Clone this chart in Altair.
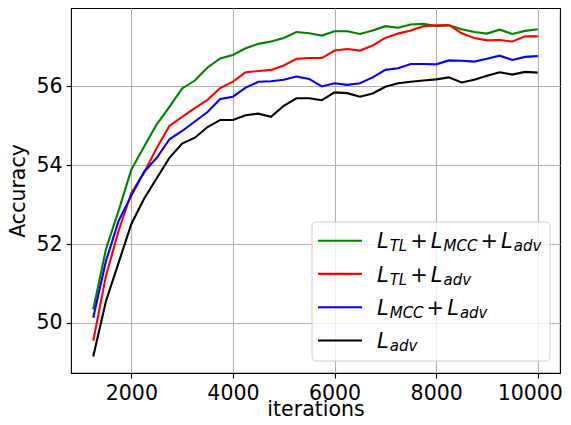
import altair as alt
import pandas as pd

iterations = list(range(1250, 10001, 250))

acc_tl_mcc_adv = [50.34, 51.87, 52.85, 53.89, 54.47, 55.04, 55.48, 55.95, 56.15, 56.48,
                  56.71, 56.80, 56.97, 57.08, 57.14, 57.23, 57.38, 57.35, 57.29, 57.40,
                  57.40, 57.33, 57.42, 57.53, 57.49, 57.57, 57.59, 57.53, 57.55, 57.45,
                  57.38, 57.34, 57.44, 57.33, 57.41, 57.45]
acc_tl_adv = [49.55, 51.19, 52.34, 53.30, 53.81, 54.44, 55.00, 55.23, 55.45, 55.66,
              55.96, 56.12, 56.36, 56.39, 56.42, 56.53, 56.70, 56.72, 56.72, 56.91,
              56.95, 56.91, 57.04, 57.23, 57.34, 57.42, 57.53, 57.55, 57.56, 57.35,
              57.23, 57.17, 57.18, 57.14, 57.27, 57.27]
acc_mcc_adv = [50.13, 51.57, 52.59, 53.23, 53.83, 54.19, 54.66, 54.87, 55.11, 55.35,
               55.68, 55.74, 55.97, 56.12, 56.13, 56.17, 56.25, 56.19, 56.00, 56.08,
               56.04, 56.08, 56.23, 56.42, 56.46, 56.57, 56.57, 56.56, 56.66, 56.65,
               56.63, 56.70, 56.78, 56.67, 56.75, 56.77]
acc_adv = [49.15, 50.55, 51.53, 52.51, 53.15, 53.67, 54.19, 54.55, 54.70, 54.97,
           55.15, 55.15, 55.27, 55.31, 55.23, 55.51, 55.70, 55.70, 55.65, 55.85,
           55.83, 55.74, 55.82, 55.99, 56.08, 56.12, 56.15, 56.18, 56.23, 56.10,
           56.17, 56.27, 56.36, 56.30, 56.37, 56.35]

series_names = ["L_TL + L_MCC + L_adv", "L_TL + L_adv", "L_MCC + L_adv", "L_adv"]
series_colors = ["#008000", "#ff0000", "#0000ff", "#000000"]
series_values = [acc_tl_mcc_adv, acc_tl_adv, acc_mcc_adv, acc_adv]

x_ticks = [2000, 4000, 6000, 8000, 10000]
y_ticks = [50, 52, 54, 56]

rows = []
for k, (name, vals) in enumerate(zip(series_names, series_values)):
    for it, v in zip(iterations, vals):
        rows.append({"iterations": it, "accuracy": v, "series": name, "k": k})
df = pd.DataFrame(rows)

FONT = "DejaVu Sans"
FS = 20.5

lines = alt.Chart(df).mark_line(strokeWidth=2.1, clip=True).encode(
    x=alt.X("iterations:Q",
            scale=alt.Scale(domain=[812.5, 10437.5], nice=False, zero=False),
            axis=alt.Axis(values=x_ticks, format="d", title="iterations",
                          labelPadding=5,
                          labelOffset={"condition": {"test": "datum.value == 10000", "value": -8},
                                       "value": 0},
                          titleBaseline="alphabetic", titleY=42)),
    y=alt.Y("accuracy:Q",
            scale=alt.Scale(domain=[48.73, 57.99], nice=False, zero=False),
            axis=alt.Axis(values=y_ticks, format="d", title="Accuracy",
                          labelPadding=4, titleBaseline="alphabetic", titleX=-46.5)),
    color=alt.Color("series:N", scale=alt.Scale(domain=series_names, range=series_colors),
                    legend=None),
    order=alt.Order("k:Q"),
)

one = pd.DataFrame({"a": [0]})
OX, OY = 71, 8  # plot origin on the page

layers = [lines]
layers.append(
    alt.Chart(one).mark_rect(fill="white", fillOpacity=0.8, stroke="#cccccc",
                             strokeWidth=1, cornerRadius=4).encode(
        x=alt.value(312 - OX), x2=alt.value(550 - OX),
        y=alt.value(222 - OY), y2=alt.value(361 - OY))
)

ADV = {"T": 0.611, "L": 0.557, "M": 0.863, "C": 0.698, "a": 0.613, "d": 0.635, "v": 0.592}
SUB = 15
MAIN = 21

row_line_y = [240.7, 273.9, 307.2, 340.5]
row_base_y = [248.3, 281.6, 314.9, 348.2]

for name, color, ly, by in zip(series_names, series_colors, row_line_y, row_base_y):
    layers.append(
        alt.Chart(one).mark_rule(color=color, strokeWidth=2.1).encode(
            x=alt.value(318 - OX), x2=alt.value(362 - OX), y=alt.value(ly - OY))
    )
    terms = name.split(" + ")
    pos = 377.0
    for i, term in enumerate(terms):
        main, sub = term.split("_")
        layers.append(
            alt.Chart(one).mark_text(text=main, font=FONT, fontStyle="italic", fontSize=MAIN,
                                     align="left", baseline="alphabetic", color="black").encode(
                x=alt.value(pos - OX), y=alt.value(by - OY))
        )
        pos += 12.7
        layers.append(
            alt.Chart(one).mark_text(text=sub, font=FONT, fontStyle="italic", fontSize=SUB,
                                     align="left", baseline="alphabetic", color="black").encode(
                x=alt.value(pos - OX), y=alt.value(by + 3 - OY))
        )
        pos += sum(ADV[c] for c in sub) * SUB + 3
        if i < len(terms) - 1:
            layers.append(
                alt.Chart(one).mark_text(text="+", font=FONT, fontSize=MAIN,
                                         align="left", baseline="alphabetic", color="black").encode(
                    x=alt.value(pos - OX), y=alt.value(by - OY))
            )
            pos += 0.838 * MAIN + 3

chart = alt.layer(*layers).properties(
    width=489, height=365,
    padding={"left": 63, "top": 0, "right": 3, "bottom": 44},
    autosize=alt.AutoSizeParams(type="none"),
).configure_view(
    stroke="black", strokeWidth=1.1
).configure_axis(
    grid=True, gridColor="#b0b0b0", gridWidth=1.1,
    domain=False, tickColor="black", tickSize=5, tickWidth=1.1,
    labelFont=FONT, labelFontSize=FS, labelColor="black",
    titleFont=FONT, titleFontSize=FS, titleColor="black", titleFontWeight="normal",
)

chart.save("out.html", embed_options={"renderer": "svg", "actions": False})
